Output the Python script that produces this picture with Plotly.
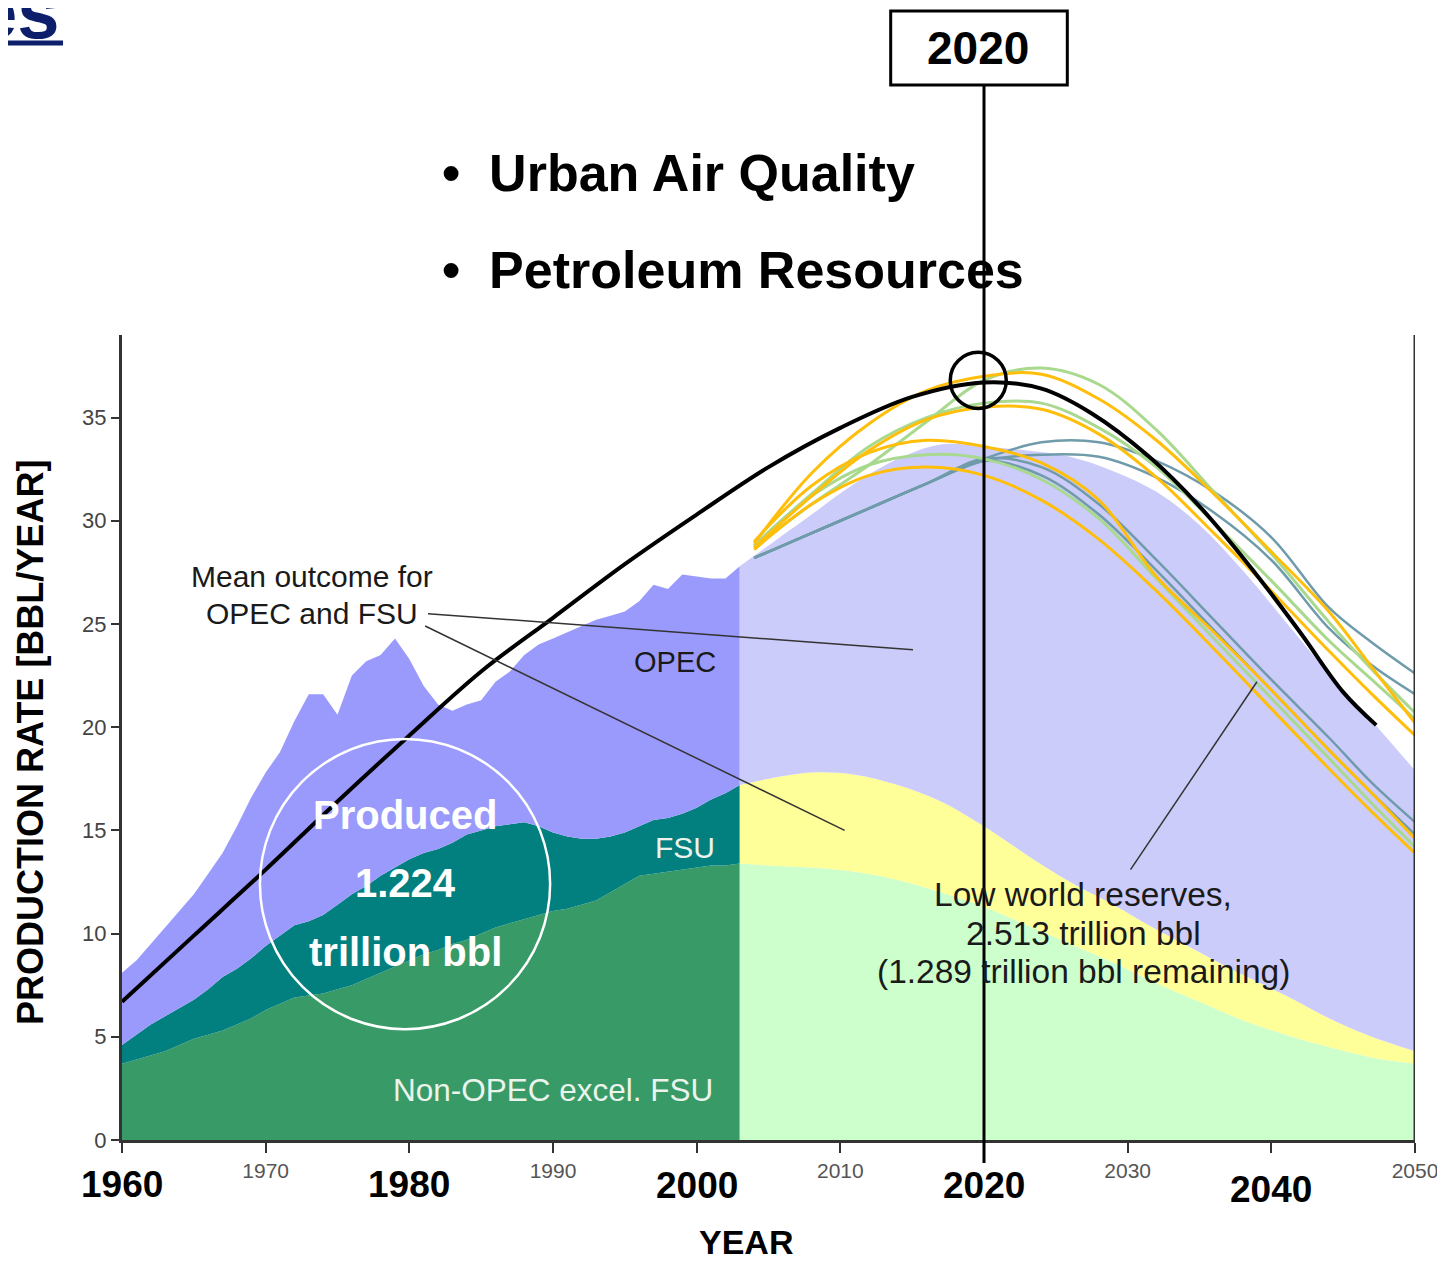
import plotly.graph_objects as go

# ---------------- data ----------------
hist_years = list(range(1960, 2004))
hist_nonopec = [3.7, 3.9, 4.1, 4.3, 4.6, 4.9, 5.1, 5.3, 5.6, 5.9, 6.3, 6.6, 6.9, 7.0, 7.1, 7.3,
                7.5, 7.8, 8.1, 8.4, 8.7, 9.0, 9.2, 9.5, 9.7, 10.0, 10.3, 10.5, 10.7, 10.9, 11.1,
                11.2, 11.4, 11.6, 12.0, 12.4, 12.8, 12.9, 13.0, 13.1, 13.2, 13.3, 13.3, 13.4]
hist_fsu = [0.9, 1.2, 1.5, 1.7, 1.8, 1.9, 2.2, 2.6, 2.7, 2.9, 3.1, 3.3, 3.5, 3.6, 3.8, 4.1,
            4.4, 4.5, 4.7, 4.8, 4.9, 4.9, 4.9, 4.9, 5.1, 5.0, 4.9, 4.8, 4.7, 4.3, 3.8,
            3.5, 3.2, 3.0, 2.7, 2.5, 2.4, 2.6, 2.6, 2.7, 2.9, 3.2, 3.5, 3.8]
hist_opec = [3.5, 3.6, 3.9, 4.3, 4.7, 5.1, 5.6, 6.0, 6.9, 7.8, 8.4, 8.9, 9.9, 11.0, 10.7, 9.2,
             10.6, 10.9, 10.7, 11.1, 9.7, 8.1, 7.0, 6.4, 6.3, 6.3, 7.0, 7.4, 8.1, 8.8, 9.4,
             9.9, 10.3, 10.6, 10.7, 10.7, 10.9, 11.4, 11.1, 11.6, 11.2, 10.7, 10.4, 10.6]

fc_years = [2003, 2005, 2008, 2011, 2014, 2017, 2020, 2023, 2026, 2029, 2032, 2035, 2038, 2041, 2044, 2047, 2050]
fc_nonopec = [13.4, 13.3, 13.2, 13.0, 12.6, 12.0, 11.3, 10.4, 9.5, 8.6, 7.6, 6.7, 5.8, 5.1, 4.5, 4.0, 3.7]
fc_fsu = [3.8, 4.2, 4.6, 4.7, 4.6, 4.4, 3.9, 3.4, 3.0, 2.8, 2.6, 2.4, 2.2, 1.9, 1.4, 1.0, 0.6]
fc_opec = [10.6, 11.3, 12.5, 14.1, 15.8, 17.3, 18.4, 19.6, 20.6, 21.0, 21.2, 20.7, 19.6, 18.1, 16.7, 15.3, 13.6]

scen_years = [2004, 2008, 2012, 2016, 2020, 2024, 2028, 2032, 2036, 2040, 2044, 2047, 2050]
scen_orange = [
    [28.9, 32.3, 34.7, 36.3, 37.0, 37.1, 35.9, 33.9, 31.3, 28.5, 25.6, 22.9, 20.2],
    [28.7, 31.2, 33.4, 34.9, 35.5, 35.4, 34.2, 32.1, 29.4, 26.6, 23.7, 21.6, 19.6],
    [29.0, 31.7, 33.3, 33.9, 33.6, 32.8, 31.0, 27.3, 24.6, 21.8, 18.9, 16.8, 14.6],
    [28.6, 30.8, 32.2, 32.6, 32.2, 31.0, 29.1, 26.6, 23.8, 20.9, 18.0, 15.9, 13.9],
]
scen_green = [
    [28.7, 30.8, 32.7, 34.8, 36.8, 37.4, 36.6, 34.4, 31.4, 28.4, 25.1, 22.8, 20.7],
    [28.8, 31.3, 33.6, 35.0, 35.7, 35.7, 34.5, 32.6, 29.9, 27.1, 24.2, 22.3, 20.4],
    [28.8, 31.2, 32.7, 33.2, 33.0, 32.0, 30.1, 27.2, 24.3, 21.4, 18.5, 16.3, 14.2],
]
scen_blue = [
    [28.2, 29.4, 30.6, 31.8, 33.0, 33.8, 33.8, 32.9, 31.4, 29.2, 25.8, 24.1, 22.6],
    [28.2, 29.4, 30.6, 31.8, 32.9, 33.2, 33.1, 32.1, 30.4, 28.1, 24.8, 23.0, 21.6],
    [28.2, 29.4, 30.6, 31.8, 33.0, 32.6, 30.8, 28.1, 25.2, 22.3, 19.5, 17.3, 15.4],
    [28.2, 29.4, 30.6, 31.8, 32.9, 32.2, 30.3, 27.6, 24.7, 21.8, 18.9, 16.8, 14.8],
]

peak_years = [1960, 1965, 1970, 1975, 1980, 1985, 1990, 1995, 2000, 2005, 2010, 2015, 2020,
              2024, 2027.5, 2031.5, 2035, 2038.5, 2042, 2045, 2047.3]
peak_values = [6.7, 9.9, 13.1, 16.4, 19.6, 22.7, 25.3, 27.9, 30.3, 32.6, 34.5, 36.0, 36.7,
               36.4, 35.2, 33.1, 30.7, 27.8, 24.6, 21.7, 20.1]

y_ticks = [0, 5, 10, 15, 20, 25, 30, 35]
x_ticks = [1960, 1970, 1980, 1990, 2000, 2010, 2020, 2030, 2040, 2050]
x_small_labels = ["", "1970", "", "1990", "", "2010", "", "2030", "", "2050"]
x_big_labels = ["1960", "1980", "2000", "2020", "2040"]

# ---------------- figure ----------------
fig = go.Figure()

for name, vals, col in [("Non-OPEC excl. FSU", hist_nonopec, "#389A66"),
                        ("FSU", hist_fsu, "#027F7F"),
                        ("OPEC", hist_opec, "#9A9AFD")]:
    fig.add_trace(go.Scatter(x=hist_years, y=vals, stackgroup="hist", mode="lines",
                             line=dict(width=0), fillcolor=col, name=name, hoverinfo="skip"))

for name, vals, col in [("Non-OPEC forecast", fc_nonopec, "#CCFFCC"),
                        ("FSU forecast", fc_fsu, "#FFFF99"),
                        ("OPEC forecast", fc_opec, "#CCCCFB")]:
    fig.add_trace(go.Scatter(x=fc_years, y=vals, stackgroup="fc", mode="lines",
                             line=dict(width=0, shape="spline"), fillcolor=col, name=name,
                             hoverinfo="skip"))

for vals in scen_blue:
    fig.add_trace(go.Scatter(x=scen_years, y=vals, mode="lines",
                             line=dict(color="#6F9BAA", width=2.5, shape="spline")))
for vals in scen_green:
    fig.add_trace(go.Scatter(x=scen_years, y=vals, mode="lines",
                             line=dict(color="#A9D98E", width=3, shape="spline")))
for vals in scen_orange:
    fig.add_trace(go.Scatter(x=scen_years, y=vals, mode="lines",
                             line=dict(color="#FFBE0A", width=3, shape="spline")))

fig.add_trace(go.Scatter(x=peak_years, y=peak_values, mode="lines",
                         line=dict(color="black", width=4, shape="spline")))

SANS = "Liberation Sans, Arial, sans-serif"

shapes = [
    dict(type="line", xref="x", yref="y", x0=2050, x1=2050, y0=0, y1=39,
         line=dict(color="#333333", width=3)),
    dict(type="circle", xref="x", yref="y", x0=1969.6, x1=1989.8, y0=5.37, y1=19.43,
         line=dict(color="white", width=2.5)),
    dict(type="line", xref="x", yref="y", x0=1981.3, y0=25.5, x1=2015.06, y1=23.75,
         line=dict(color="#333333", width=1.5)),
    dict(type="line", xref="x", yref="y", x0=1981.1, y0=24.9, x1=2010.3, y1=15.0,
         line=dict(color="#333333", width=1.5)),
    dict(type="line", xref="x", yref="y", x0=2030.2, y0=13.1, x1=2039.0, y1=22.2,
         line=dict(color="#333333", width=1.5)),
    dict(type="line", xref="x", yref="paper", x0=2020, x1=2020, y0=-0.0286, y1=1.3106,
         line=dict(color="black", width=3)),
    dict(type="circle", xref="x", yref="y", x0=2017.65, x1=2021.55, y0=35.44, y1=38.16,
         line=dict(color="black", width=3.5)),
    dict(type="rect", xref="paper", yref="paper", x0=0.5945, x1=0.7311, y0=1.3106, y1=1.4025,
         line=dict(color="black", width=3), fillcolor="white"),
    dict(type="line", xref="paper", yref="paper", x0=-0.1, x1=-0.0456, y0=1.3627, y1=1.3627,
         line=dict(color="#0D1F6B", width=5)),
]


def ann(text, x, y, size, color="#1a1a1a", xref="x", yref="y", **kw):
    d = dict(text=text, x=x, y=y, xref=xref, yref=yref, showarrow=False,
             font=dict(size=size, color=color, family=SANS),
             xanchor="center", yanchor="middle")
    d.update(kw)
    return d


annotations = [
    ann("<b>2020</b>", 0.662, 1.3565, 46, "black", "paper", "paper"),
    ann("<b>•&nbsp;&nbsp;Urban Air Quality</b>", 0.2459, 1.2012, 52, "black", "paper", "paper",
        xanchor="left"),
    ann("<b>•&nbsp;&nbsp;Petroleum Resources</b>", 0.2459, 1.0807, 52, "black", "paper", "paper",
        xanchor="left"),
    ann("<b>es</b>", -0.0464, 1.347, 76, "#0D1F6B", "paper", "paper",
        xanchor="right", yanchor="bottom"),
    ann("Mean outcome for", 1973.2, 27.29, 30),
    ann("OPEC and FSU", 1973.2, 25.5, 30),
    ann("OPEC", 1998.5, 23.17, 29),
    ann("FSU", 1999.2, 14.15, 30, "#EAF4EC"),
    ann("Non-OPEC excel. FSU", 1990.0, 2.42, 31.5, "#EAF4EC"),
    ann("<b>Produced</b>", 1979.7, 15.75, 40, "white"),
    ann("<b>1.224</b>", 1979.7, 12.46, 40, "white"),
    ann("<b>trillion bbl</b>", 1979.7, 9.11, 40, "white"),
    ann("Low world reserves,", 2026.9, 11.88, 33.5),
    ann("2.513 trillion bbl", 2026.9, 9.99, 33.5),
    ann("(1.289 trillion bbl remaining)", 2026.9, 8.14, 33.5),
    ann("<b>YEAR</b>", 2003.4, -0.127, 34, "black", "x", "paper"),
    ann("<b>PRODUCTION RATE [BBL/YEAR]</b>", -0.0712, 0.4944, 36, "black", "paper", "paper",
        textangle=-90),
]

big_label_y = [-0.0547, -0.0547, -0.057, -0.056, -0.062]
for lab, yy in zip(x_big_labels, big_label_y):
    annotations.append(ann("<b>%s</b>" % lab, int(lab), yy, 37, "black", "x", "paper"))

# page body has an 8px margin, so the figure is sized to fill the remaining window
fig.update_layout(
    width=1437, height=1255,
    margin=dict(l=114, r=30, t=327, b=123, pad=0),
    paper_bgcolor="white", plot_bgcolor="white",
    showlegend=False,
    font=dict(family=SANS),
    shapes=shapes,
    annotations=annotations,
    xaxis=dict(range=[1960, 2050], tickvals=x_ticks, ticktext=x_small_labels, automargin=False,
               showgrid=False, zeroline=False, showline=True, linecolor="#333333", linewidth=3,
               ticks="outside", ticklen=10, tickwidth=2, tickcolor="#333333",
               tickfont=dict(size=21, color="#555555", family=SANS)),
    yaxis=dict(range=[0, 39], tickvals=y_ticks, showgrid=False, zeroline=False, automargin=False,
               showline=True, linecolor="#333333", linewidth=3,
               ticks="outside", ticklen=8, tickwidth=2, tickcolor="#333333",
               tickfont=dict(size=22, color="#444444", family=SANS)),
)

fig.write_html("out.html")
